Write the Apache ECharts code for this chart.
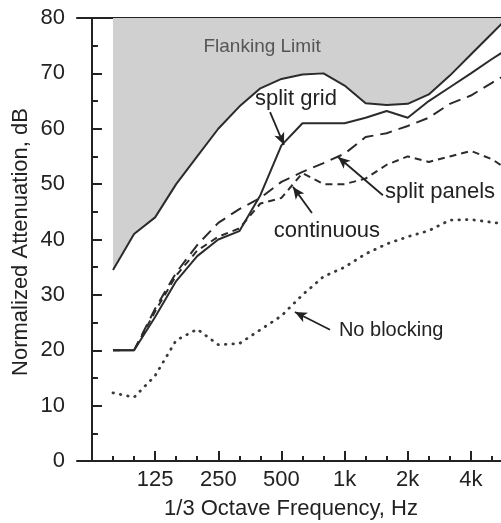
<!DOCTYPE html>
<html>
<head>
<meta charset="utf-8">
<script src="https://cdn.jsdelivr.net/npm/echarts@6/dist/echarts.min.js"></script>
<style>
  html, body { margin: 0; padding: 0; background: #ffffff; }
  #chart { width: 501px; height: 523px; }
</style>
</head>
<body>
<div id="chart"></div>
<script>
// Third-octave bands; band index 0 = 63 Hz, 3 = 125 Hz, ... 18 = 4 kHz
const bandIndex = [1, 2, 3, 4, 5, 6, 7, 8, 9, 10, 11, 12, 13, 14, 15, 16, 17, 18, 19, 20];
const bandNames = ['80', '100', '125', '160', '200', '250', '315', '400', '500', '630',
                   '800', '1k', '1.25k', '1.6k', '2k', '2.5k', '3.15k', '4k', '5k', '6.3k'];

// Octave tick positions and their labels
const octaveTicks = [0, 3, 6, 9, 12, 15, 18];
const labelTicks = [3, 6, 9, 12, 15, 18];
const labelTexts = ['125', '250', '500', '1k', '2k', '4k'];
const thirdTicks = [1, 2, 4, 5, 7, 8, 10, 11, 13, 14, 16, 17, 19];

// Normalized attenuation, dB
const flankingLimit = [34.5, 41, 44, 50, 55, 60, 64, 67.3, 69, 69.8, 70, 67.8, 64.6, 64.3, 64.5, 66.2, 69.6, 73.4, 77.2, 81];
const splitGrid     = [20, 20, 26, 32.5, 37, 40, 41.5, 48, 57, 61, 61, 61, 62, 63.2, 62, 65, 67.5, 70, 72.6, 75];
const splitPanels   = [20, 20, 27.5, 34, 39, 43, 45.5, 47.5, 50.4, 52.2, 53.8, 55.5, 58.5, 59.2, 60.5, 62, 64.5, 66, 68.3, 70.5];
const continuous    = [20, 20, 27, 33.5, 38, 40.5, 42, 46.5, 47.5, 52, 50, 50, 51, 53.5, 55, 54, 55, 56, 54.5, 52];
const noBlocking    = [12.3, 11.5, 15.4, 21.8, 23.8, 21, 21.2, 23.7, 26.2, 30, 33.3, 35, 37.4, 39.2, 40.5, 41.6, 43.5, 43.6, 43.1, 42.7];

// Curve labels: [text, band index, dB, alignment, font size, colour]
const curveLabels = [
  ['Flanking Limit', 8.08, 74.8, 'center', 19, '#555555'],
  ['split grid', 9.69, 65.4, 'center', 22, '#222222'],
  ['split panels', 13.92, 48.6, 'left', 22, '#222222'],
  ['continuous', 11.16, 41.5, 'center', 22, '#222222'],
  ['No blocking', 11.73, 23.5, 'left', 20, '#222222']
];
// Leader arrows: [from, to] in (band index, dB)
const leaderArrows = [
  [[8.46, 63.0], [9.12, 57.1]],
  [[13.82, 48.0], [11.69, 54.9]],
  [[10.45, 44.8], [9.55, 49.5]],
  [[11.31, 23.7], [9.64, 26.9]]
];

const FONT = '"Liberation Sans", Arial, Helvetica, sans-serif';
const INK = '#222222';

function pairs(values) {
  return values.map((v, i) => [bandIndex[i], v]);
}

function curve(name, values, type, width, extra) {
  return Object.assign({
    name: name,
    type: 'line',
    data: pairs(values),
    showSymbol: false,
    symbol: 'none',
    silent: true,
    animation: false,
    clip: true,
    lineStyle: { color: '#2b2b2b', width: width, type: type }
  }, extra || {});
}

const chart = echarts.init(document.getElementById('chart'), null, { renderer: 'canvas' });

const option = {
  backgroundColor: '#ffffff',
  animation: false,
  textStyle: { fontFamily: FONT },
  grid: { left: 77, right: 0, top: 18, bottom: 62, containLabel: false },
  xAxis: [
    {
      type: 'value', min: -0.71, max: 19.43, position: 'bottom',
      axisLine: { show: true, lineStyle: { color: INK, width: 2 } },
      axisTick: { show: true, inside: true, length: 10, customValues: octaveTicks,
                  lineStyle: { color: INK, width: 2 } },
      axisLabel: {
        show: true, customValues: labelTicks, margin: 8,
        fontSize: 22, color: INK, fontFamily: FONT,
        formatter: (v) => labelTexts[labelTicks.indexOf(Math.round(v))] || ''
      },
      splitLine: { show: false }
    },
    {
      type: 'value', min: -0.71, max: 19.43, position: 'bottom', offset: 0,
      axisLine: { show: false },
      axisTick: { show: true, inside: true, length: 5, customValues: thirdTicks,
                  lineStyle: { color: INK, width: 2 } },
      axisLabel: { show: false },
      splitLine: { show: false }
    },
    {
      type: 'value', min: -0.71, max: 19.43, position: 'top', offset: 0,
      axisLine: { show: true, lineStyle: { color: INK, width: 2 } },
      axisTick: { show: false },
      axisLabel: { show: false },
      splitLine: { show: false }
    }
  ],
  yAxis: {
    type: 'value', min: 0, max: 80, interval: 10,
    axisLine: { show: true, lineStyle: { color: INK, width: 2 } },
    axisTick: { show: true, inside: true, length: 10, lineStyle: { color: INK, width: 2 } },
    minorTick: { show: true, splitNumber: 2, length: 6, lineStyle: { color: INK, width: 2 } },
    axisLabel: { margin: 12, fontSize: 22, color: INK, fontFamily: FONT },
    splitLine: { show: false }
  },
  series: [
    curve('Flanking Limit', flankingLimit, 'solid', 2, {
      areaStyle: { origin: 'end', color: '#d0d0d0', opacity: 1 },
      z: 1
    }),
    curve('No blocking', noBlocking, [0.5, 7], 2.8, {
      lineStyle: { color: '#3a3a3a', width: 2.8, type: [0.5, 7], cap: 'round' },
      z: 2
    }),
    curve('continuous', continuous, [7, 5], 2, { z: 3 }),
    curve('split panels', splitPanels, [12, 7], 2, { z: 3 }),
    curve('split grid', splitGrid, 'solid', 2, { z: 4 }),
    {
      name: 'leaders',
      type: 'line',
      data: [],
      silent: true,
      animation: false,
      z: 5,
      markLine: {
        silent: true,
        animation: false,
        symbol: ['none', 'arrow'],
        symbolSize: [8, 12],
        label: { show: false },
        lineStyle: { color: INK, width: 1.8, type: 'solid' },
        emphasis: { disabled: true },
        data: leaderArrows.map(a => [{ coord: a[0] }, { coord: a[1] }])
      }
    }
  ]
};

chart.setOption(option);

// Place the curve names and axis titles as text
const texts = curveLabels.map(l => {
  const p = chart.convertToPixel({ xAxisIndex: 0, yAxisIndex: 0 }, [l[1], l[2]]);
  return {
    type: 'text', x: p[0], y: p[1], z: 10, silent: true,
    style: {
      text: l[0], fill: l[5], font: l[4] + 'px ' + FONT,
      textAlign: l[3], textVerticalAlign: 'middle'
    }
  };
});
texts.push({
  type: 'text', x: 21, y: 242, rotation: Math.PI / 2, z: 10, silent: true,
  style: { text: 'Normalized Attenuation, dB', fill: INK, font: '22px ' + FONT,
           textAlign: 'center', textVerticalAlign: 'middle' }
});
texts.push({
  type: 'text', x: 291, y: 509, z: 10, silent: true,
  style: { text: '1/3 Octave Frequency, Hz', fill: INK, font: '22px ' + FONT,
           textAlign: 'center', textVerticalAlign: 'middle' }
});
chart.setOption({ graphic: texts });
</script>
</body>
</html>
